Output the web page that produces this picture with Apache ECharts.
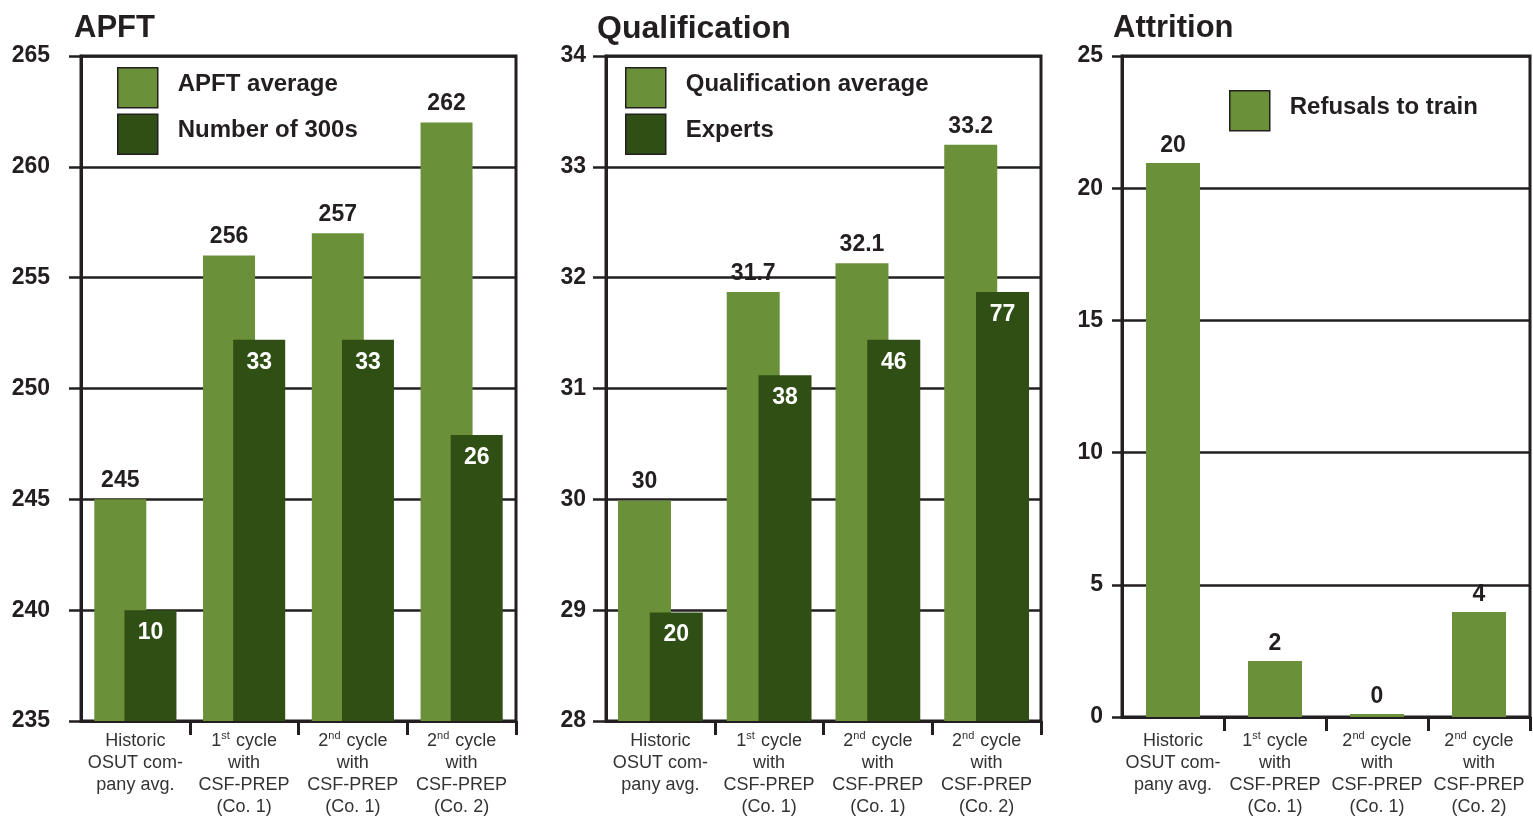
<!DOCTYPE html>
<html>
<head>
<meta charset="utf-8">
<script src="https://cdn.jsdelivr.net/npm/echarts@6/dist/echarts.min.js"></script>
<style>
html,body{margin:0;padding:0;background:#fff;}
#chart{width:1533px;height:818px;}
</style>
</head>
<body>
<div id="chart"></div>
<script>
// ---- Data ----
const categories = [
  'Historic\nOSUT com-\npany avg.',
  '1st cycle\nwith\nCSF-PREP\n(Co. 1)',
  '2nd cycle\nwith\nCSF-PREP\n(Co. 1)',
  '2nd cycle\nwith\nCSF-PREP\n(Co. 2)'
];
const panelTitles = ['APFT', 'Qualification', 'Attrition'];

// APFT panel
const apftAverage = [245, 256, 257, 262];
const apftAverageLabels = ['245', '256', '257', '262'];
const apft300sBarHeight = [240.0, 252.2, 252.2, 247.9];   // bar heights as drawn (axis units)
const apft300sLabels = ['10', '33', '33', '26'];

// Qualification panel
const qualAverage = [29.99, 31.87, 32.13, 33.2];
const qualAverageLabels = ['30', '31.7', '32.1', '33.2'];
const expertsBarHeight = [28.98, 31.12, 31.44, 31.87];    // bar heights as drawn (axis units)
const expertsLabels = ['20', '38', '46', '77'];

// Attrition panel
const refusals = [20.95, 2.12, 0.11, 3.97];
const refusalsLabels = ['20', '2', '0', '4'];

// Axis ranges
const apftAxis = {min: 235, max: 265, interval: 5};
const qualAxis = {min: 28, max: 34, interval: 1};
const attrAxis = {min: 0, max: 25, interval: 5};

// ---- Styles ----
const INK = '#231f20';
const LIGHT = '#6a9139';
const DARK = '#2f4f15';
const FONT = '"Liberation Sans", Arial, Helvetica, sans-serif';

function xAxisFor(gridIndex, margin) {
  return {
    type: 'category', gridIndex, data: categories,
    axisLine: {show: true, lineStyle: {color: INK, width: 3}},
    axisTick: {show: true, length: 14, lineStyle: {color: INK, width: 3},
      interval: (i) => i !== 0},
    axisLabel: {
      interval: 0, margin, color: '#333', fontFamily: FONT, fontSize: 18, lineHeight: 22,
      formatter: v => v.replace(/^(\d)(st|nd)/, '$1{sup|$2}'),
      rich: {sup: {fontSize: 11, verticalAlign: 'top', lineHeight: 22, color: '#333', fontFamily: FONT, padding: [0, 1, 0, 0]}}
    },
    splitLine: {show: false}
  };
}
function yAxisFor(gridIndex, ax, margin, tickLen) {
  return {
    type: 'value', gridIndex, min: ax.min, max: ax.max, interval: ax.interval,
    axisLine: {show: true, lineStyle: {color: INK, width: 3}},
    axisTick: {show: true, length: tickLen, lineStyle: {color: INK, width: 2.5}},
    axisLabel: {margin, color: INK, fontFamily: FONT, fontSize: 23, fontWeight: 'bold'},
    splitLine: {show: true, lineStyle: {color: INK, width: 2.5}}
  };
}
function topLabel(labels, dist) {
  return {show: true, position: 'top', distance: dist, color: INK, fontFamily: FONT,
    fontSize: 23, fontWeight: 'bold', formatter: p => labels[p.dataIndex]};
}
function insideLabel(labels) {
  return {show: true, position: 'insideTop', distance: 11, color: '#fff', fontFamily: FONT,
    fontSize: 23, fontWeight: 'bold', formatter: p => labels[p.dataIndex]};
}
function legendFor(left, top, names) {
  return {
    left, top, orient: 'vertical', padding: 0, itemWidth: 40, itemHeight: 40, itemGap: 5,
    icon: 'rect', data: names, selectedMode: false,
    itemStyle: {borderColor: INK, borderWidth: 1.5},
    formatter: n => '{t|' + n + '}',
    textStyle: {color: INK, fontFamily: FONT, fontSize: 24, fontWeight: 'bold', padding: [0, 0, 0, 15],
      rich: {t: {color: INK, fontFamily: FONT, fontSize: 24, fontWeight: 'bold', padding: [0, 0, 7, 0]}}}
  };
}
const titleStyle = {color: INK, fontFamily: FONT, fontSize: 31, fontWeight: 'bold'};

const chart = echarts.init(document.getElementById('chart'), null, {renderer: 'canvas'});
chart.setOption({
  animation: false,
  backgroundColor: '#fff',
  title: [
    {text: panelTitles[0], left: 74, top: 13, padding: 0, textStyle: titleStyle},
    {text: panelTitles[1], left: 597, top: 13, padding: 0, textStyle: Object.assign({}, titleStyle, {fontSize: 32})},
    {text: panelTitles[2], left: 1113, top: 13, padding: 0, textStyle: titleStyle}
  ],
  legend: [
    legendFor(117, 67, ['APFT average', 'Number of 300s']),
    legendFor(625, 67, ['Qualification average', 'Experts']),
    legendFor(1229, 90, ['Refusals to train'])
  ],
  grid: [
    {left: 81, top: 56, width: 435, height: 665, show: true, borderColor: INK, borderWidth: 3},
    {left: 606, top: 56, width: 435, height: 665, show: true, borderColor: INK, borderWidth: 3},
    {left: 1122, top: 56, width: 408, height: 661, show: true, borderColor: INK, borderWidth: 3}
  ],
  xAxis: [xAxisFor(0, 9), xAxisFor(1, 9), xAxisFor(2, 13)],
  yAxis: [
    yAxisFor(0, apftAxis, 31, 12),
    yAxisFor(1, qualAxis, 20, 13),
    yAxisFor(2, attrAxis, 19, 10)
  ],
  series: [
    {name: 'APFT average', type: 'bar', xAxisIndex: 0, yAxisIndex: 0, data: apftAverage,
      barWidth: 52, barGap: '-42%', itemStyle: {color: LIGHT}, label: topLabel(apftAverageLabels, 7)},
    {name: 'Number of 300s', type: 'bar', xAxisIndex: 0, yAxisIndex: 0, data: apft300sBarHeight,
      barWidth: 52, barGap: '-42%', itemStyle: {color: DARK}, label: insideLabel(apft300sLabels)},
    {name: 'Qualification average', type: 'bar', xAxisIndex: 1, yAxisIndex: 1, data: qualAverage,
      barWidth: 53, barGap: '-40%', itemStyle: {color: LIGHT}, label: topLabel(qualAverageLabels, 7)},
    {name: 'Experts', type: 'bar', xAxisIndex: 1, yAxisIndex: 1, data: expertsBarHeight,
      barWidth: 53, barGap: '-40%', itemStyle: {color: DARK}, label: insideLabel(expertsLabels)},
    {name: 'Refusals to train', type: 'bar', xAxisIndex: 2, yAxisIndex: 2, data: refusals,
      barWidth: 54, itemStyle: {color: LIGHT}, label: topLabel(refusalsLabels, 6)}
  ]
});
</script>
</body>
</html>
